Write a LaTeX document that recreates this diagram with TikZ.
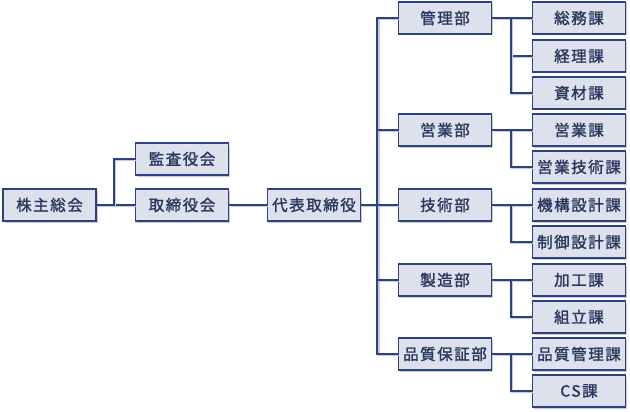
\documentclass[tikz,border=0pt]{standalone}
\usepackage{fontspec}
\newfontfamily\jpfont[LetterSpace=10,FakeBold=1.6]{Noto Sans CJK JP}
\usetikzlibrary{shadows}
\definecolor{boxfill}{HTML}{DCE1EC}
\definecolor{boxline}{HTML}{2D4283}
\definecolor{boxtext}{HTML}{2A3760}
\definecolor{linkshade}{HTML}{C6C9D0}

\begin{document}
\begin{tikzpicture}[x=1pt,y=-1pt,
    unit/.style={draw=boxline, line width=1.3pt, fill=boxfill, text=boxtext,
      minimum width=93pt, minimum height=32pt, inner sep=0pt,
      font=\jpfont\fontsize{15.5}{15.5}\selectfont,
      drop shadow={shadow xshift=1.5pt, shadow yshift=-1.5pt, fill=black!40, opacity=.5}},
    link/.style={draw=boxline, line width=1.8pt,
      preaction={draw=linkshade, line width=1.8pt, transform canvas={shift={(1.5pt,-1.5pt)}}}}]

      \useasboundingbox (0,0) rectangle (630,412);

      % left side
      \node[unit] (kabunushi)   at (49.5,205) {株主総会};
      \node[unit] (kansa)       at (182,159)  {監査役会};
      \node[unit] (torishimari) at (182,205)  {取締役会};
      \node[unit] (daihyo)      at (314,205)  {代表取締役};

      % departments
      \node[unit] (kanri)     at (445,18)  {管理部};
      \node[unit] (eigyo)     at (445,130) {営業部};
      \node[unit] (gijutsu)   at (445,205) {技術部};
      \node[unit] (seizo)     at (445,280) {製造部};
      \node[unit] (hinshitsu) at (445,354) {品質保証部};

      % sections
      \node[unit] (somu)      at (579,18)  {総務課};
      \node[unit] (keiri)     at (579,56)  {経理課};
      \node[unit] (shizai)    at (579,93)  {資材課};
      \node[unit] (eigyoka)   at (579,130) {営業課};
      \node[unit] (eigyogi)   at (579,167) {営業技術課};
      \node[unit] (kiko)      at (579,205) {機構設計課};
      \node[unit] (seigyo)    at (579,242) {制御設計課};
      \node[unit] (kako)      at (579,280) {加工課};
      \node[unit] (kumitate)  at (579,317) {組立課};
      \node[unit] (hinkan)    at (579,354) {品質管理課};
      \node[unit] (cs)        at (579,391) {CS課};

      \draw[link] (kabunushi.east) -- (torishimari.west);
      \draw[link] (kabunushi.east) -- ++(17,0) |- (kansa.west);
      \draw[link] (torishimari.east) -- (daihyo.west);
      \draw[link] (daihyo.east) -- ++(17.5,0);

      \draw[link] (kanri.west) -- ++(-20.5,0) |- (hinshitsu.west);
      \foreach \d in {eigyo,gijutsu,seizo}
        \draw[link] (\d.west) -- ++(-20.5,0);

      \draw[link] (kanri.east) -- (somu.west);
      \draw[link] (kanri.east) -- ++(18.5,0) |- (keiri.west);
      \draw[link] (kanri.east) -- ++(18.5,0) |- (shizai.west);
      \draw[link] (eigyo.east) -- (eigyoka.west);
      \draw[link] (eigyo.east) -- ++(18.5,0) |- (eigyogi.west);
      \draw[link] (gijutsu.east) -- (kiko.west);
      \draw[link] (gijutsu.east) -- ++(18.5,0) |- (seigyo.west);
      \draw[link] (seizo.east) -- (kako.west);
      \draw[link] (seizo.east) -- ++(18.5,0) |- (kumitate.west);
      \draw[link] (hinshitsu.east) -- (hinkan.west);
      \draw[link] (hinshitsu.east) -- ++(18.5,0) |- (cs.west);
    \end{tikzpicture}
\end{document}
